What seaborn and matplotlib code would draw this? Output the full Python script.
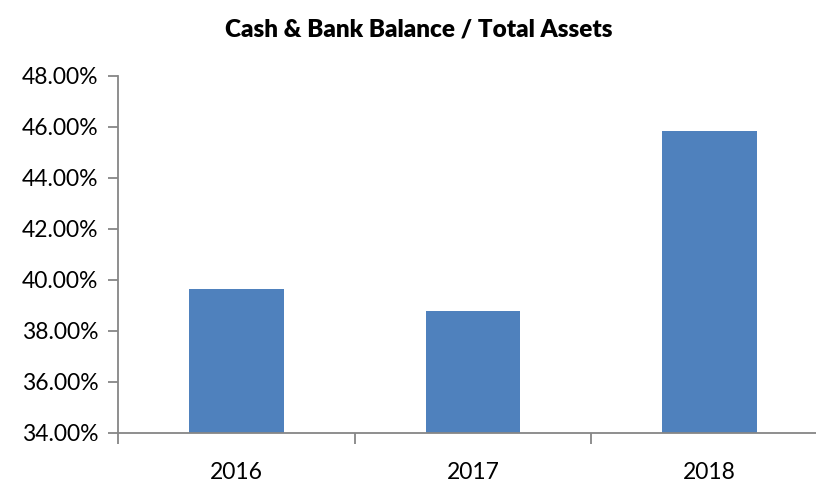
import matplotlib
matplotlib.use("Agg")
import matplotlib.pyplot as plt
import seaborn as sns
import pandas as pd
from matplotlib.ticker import FixedLocator, FuncFormatter

years = ["2016", "2017", "2018"]
ratios = [39.63, 38.77, 45.84]
yticks = [34, 36, 38, 40, 42, 44, 46, 48]

df = pd.DataFrame({"Year": years, "Ratio": ratios})

sns.set_style("white")
plt.rcParams["font.family"] = ["Lato", "DejaVu Sans"]

fig = plt.figure(figsize=(8.16, 4.82), dpi=100)
ax = fig.add_axes([118 / 816, 1 - 432.7 / 482, (828 - 118) / 816, (432.7 - 75.7) / 482])

sns.barplot(data=df, x="Year", y="Ratio", color="#4F81BD", width=0.40,
            saturation=1, ax=ax, edgecolor="none")

ax.set_ylim(34, 48)
ax.set_xlim(-0.5, 2.5)
ax.yaxis.set_major_locator(FixedLocator(yticks))
ax.yaxis.set_major_formatter(FuncFormatter(lambda v, p: f"{v:.2f}%"))
ax.xaxis.set_major_locator(FixedLocator([-0.5, 0.5, 1.5, 2.5]))
ax.xaxis.set_minor_locator(FixedLocator([0, 1, 2]))
ax.set_xticklabels([])
ax.set_xticklabels(years, minor=True)
ax.tick_params(axis="x", which="major", length=8, width=1.3, color="#868686", direction="out", bottom=True)
ax.tick_params(axis="x", which="minor", length=0, pad=21, labelsize=16.5, labelcolor="black")
ax.tick_params(axis="y", length=7, width=1.3, color="#868686", direction="out", left=True,
               pad=7, labelsize=16.5, labelcolor="black")

for s in ["top", "right"]:
    ax.spines[s].set_visible(False)
for s in ["left", "bottom"]:
    ax.spines[s].set_color("#868686")
    ax.spines[s].set_linewidth(1.3)

ax.set_xlabel("")
ax.set_ylabel("")
fig.text(419 / 816, 1 - 29 / 482, "Cash & Bank Balance / Total Assets", ha="center", va="center",
         fontsize=17.5, fontweight="heavy", color="black")

fig.savefig("out.png", dpi=100)
